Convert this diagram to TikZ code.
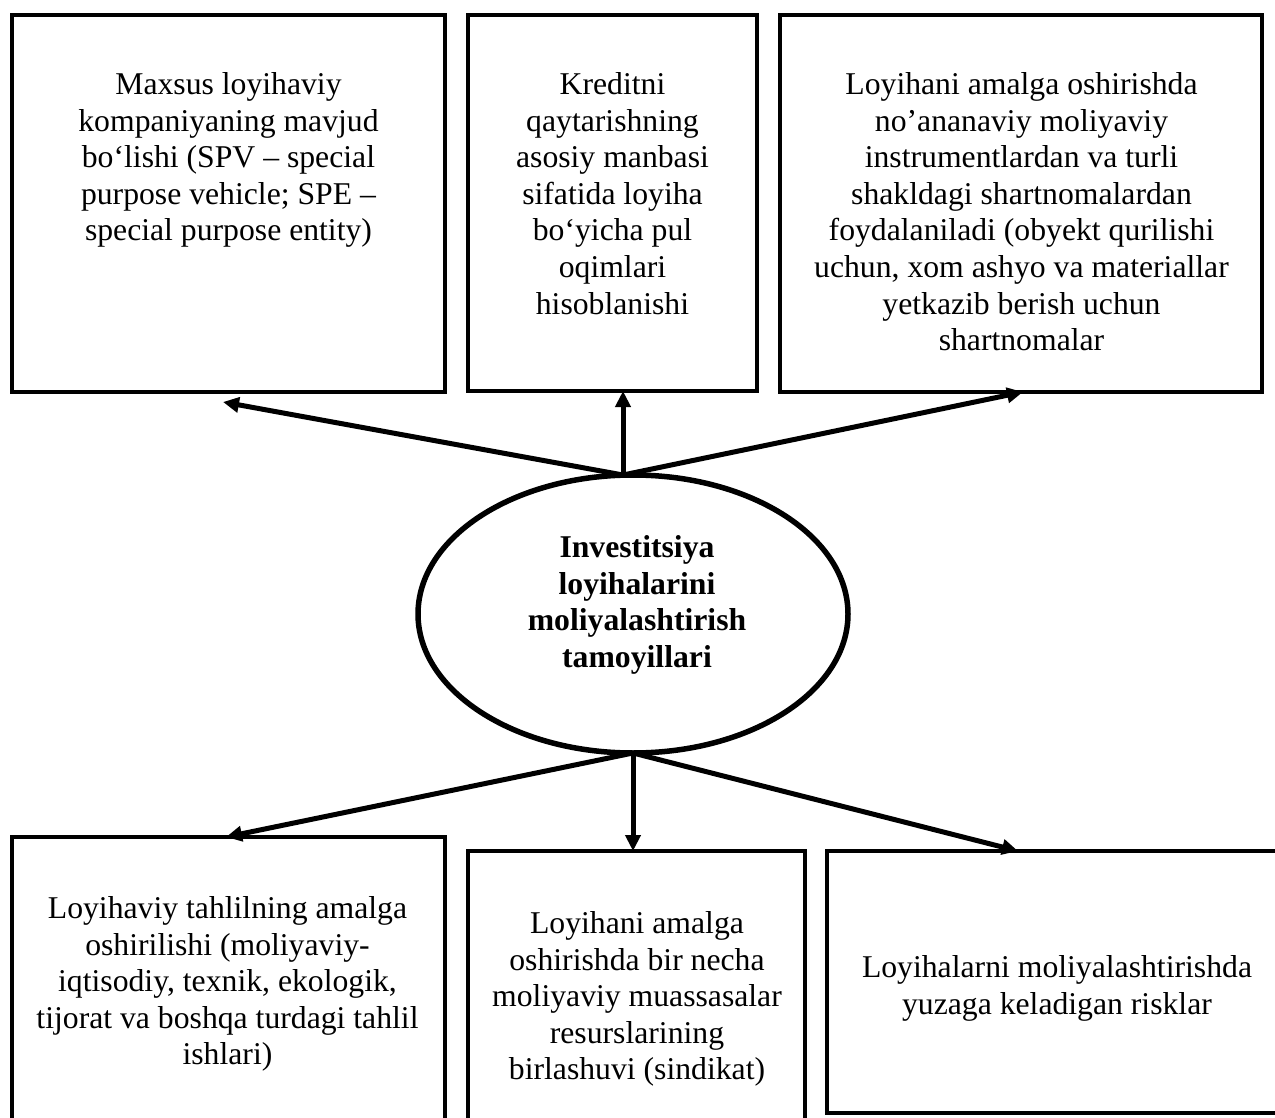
\documentclass[tikz,border=0pt]{standalone}
\usepackage{fontspec}
\setmainfont{Liberation Serif}
\usetikzlibrary{shapes.geometric,arrows.meta}
\tikzset{
  boxshape/.style={draw, line width=3.5pt, inner sep=0pt, outer sep=0pt, anchor=north west, rectangle},
  boxtext/.style={inner sep=0pt, outer sep=0pt, anchor=north, align=center, font=\fontsize{31.7}{36.6}\selectfont},
  ovalshape/.style={draw, ellipse, line width=5.5pt, inner sep=0pt, outer sep=0pt, minimum width=430pt, minimum height=278pt},
  ovaltext/.style={inner sep=0pt, outer sep=0pt, align=center, font=\fontsize{31.7}{36.6}\selectfont\bfseries},
  conn/.style={line width=5pt, -{Triangle[length=16pt,width=15pt]}}
}
\begin{document}
\begin{tikzpicture}[x=1pt,y=-1pt]
\path[use as bounding box] (0,0) rectangle (1275,1118);
\clip (0,0) rectangle (1275,1118);
\fill[white] (0,0) rectangle (1275,1118);

% top boxes
\node[boxshape, minimum width=433pt, minimum height=377pt] (b1) at (12,15) {};
\node[boxshape, minimum width=289pt, minimum height=376pt] (b2) at (468,15) {};
\node[boxshape, minimum width=482pt, minimum height=377pt] (b3) at (780,15) {};
% bottom boxes
\node[boxshape, minimum width=433pt, minimum height=303pt] (b4) at (12,837) {};
\node[boxshape, minimum width=337pt, minimum height=289pt] (b5) at (468,851) {};
\node[boxshape, minimum width=463pt, minimum height=262pt] (b6) at (827,851) {};

% texts
\node[boxtext] (x1) at (228.5,72.5) {Maxsus loyihaviy\\kompaniyaning mavjud\\bo‘lishi (SPV – special\\purpose vehicle; SPE –\\special purpose entity)};
\node[boxtext] (x2) at (612.5,72.5) {Kreditni\\qaytarishning\\asosiy manbasi\\sifatida loyiha\\bo‘yicha pul\\oqimlari\\hisoblanishi};
\node[boxtext] (x3) at (1021.5,72.5) {Loyihani amalga oshirishda\\no’ananaviy moliyaviy\\instrumentlardan va turli\\shakldagi shartnomalardan\\foydalaniladi (obyekt qurilishi\\uchun, xom ashyo va materiallar\\yetkazib berish uchun\\shartnomalar};
\node[boxtext] (x4) at (227.5,896.5) {Loyihaviy tahlilning amalga\\oshirilishi (moliyaviy-\\iqtisodiy, texnik, ekologik,\\tijorat va boshqa turdagi tahlil\\ishlari)};
\node[boxtext] (x5) at (637,911.5) {Loyihani amalga\\oshirishda bir necha\\moliyaviy muassasalar\\resurslarining\\birlashuvi (sindikat)};
\node[boxtext] (x6) at (1057,955.5) {Loyihalarni moliyalashtirishda\\yuzaga keladigan risklar};

% central ellipse
\node[ovalshape] (ell) at (633,614) {};
\node[ovaltext] (ellt) at (637,605) {Investitsiya\\loyihalarini\\moliyalashtirish\\tamoyillari};

% connector endpoints
\coordinate (topo) at ([xshift=-10pt]ell.north);
\coordinate (boto) at (ell.south);
\coordinate (t1) at ([xshift=-5.5pt,yshift=-10pt]b1.south);
\coordinate (t2) at ([xshift=10.5pt]b2.south);
\coordinate (t3) at ([xshift=2pt]b3.south);
\coordinate (s1) at ([xshift=-2.5pt]b4.north);
\coordinate (s2) at ([xshift=-3.5pt]b5.north);
\coordinate (s3) at ([xshift=-40.5pt]b6.north);

\draw[conn] (topo) -- (t1);
\draw[conn] (topo) -- (t2);
\draw[conn] (topo) -- (t3);
\draw[conn] (boto) -- (s1);
\draw[conn] (boto) -- (s2);
\draw[conn] (boto) -- (s3);
\end{tikzpicture}
\end{document}
